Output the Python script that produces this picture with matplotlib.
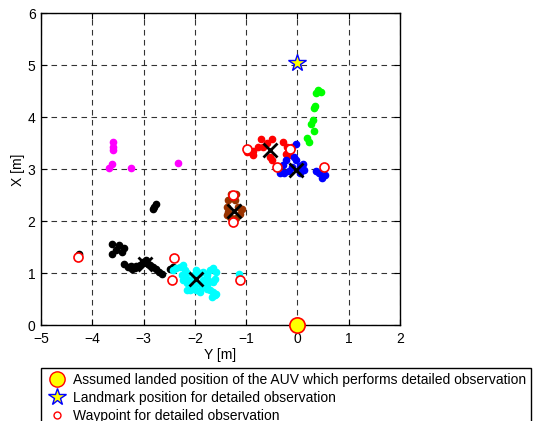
import matplotlib
matplotlib.use('Agg')
import matplotlib.pyplot as plt
from matplotlib.lines import Line2D

plt.rcParams['font.family'] = ['Liberation Sans', 'DejaVu Sans']

# point clouds: (Y, X) pairs
magenta_y = [-3.59, -3.59, -3.59, -3.62, -3.67, -3.24, -2.33]
magenta_x = [3.53, 3.43, 3.38, 3.10, 3.03, 3.03, 3.13]

black_y = [-4.27, -3.62, -3.49, -3.54, -3.38, -3.43, -3.62,
           -3.38, -3.30, -3.23, -3.17, -3.25, -3.14, -3.07, -3.01, -2.95,
           -2.92, -2.88, -2.81, -2.75, -2.71, -2.64, -2.49, -2.42,
           -2.75, -2.79, -2.81]
black_x = [1.38, 1.56, 1.54, 1.45, 1.48, 1.42, 1.38,
           1.19, 1.13, 1.09, 1.11, 1.14, 1.14, 1.16, 1.22, 1.26,
           1.19, 1.16, 1.12, 1.08, 1.03, 0.98, 1.08, 1.12,
           2.33, 2.27, 2.23]

cyan_y = [-2.42, -2.36, -2.29, -2.24, -2.19, -2.16, -2.26, -2.19, -2.13, -2.06,
          -2.02, -1.97, -1.90, -1.84, -1.77, -1.70, -1.64, -1.58, -1.61, -1.64,
          -1.74, -1.80, -1.87, -1.93, -2.03, -2.10, -2.16, -2.06, -1.97, -1.90,
          -1.77, -1.71, -1.64, -1.61, -1.67, -1.58, -1.77, -1.84, -2.16, -2.23,
          -1.14]
cyan_x = [1.06, 1.10, 1.13, 1.16, 1.06, 1.00, 0.97, 0.92, 0.87, 0.90,
          0.97, 1.06, 1.00, 1.03, 0.97, 1.06, 1.10, 1.03, 0.90, 0.84,
          0.87, 0.81, 0.74, 0.81, 0.74, 0.68, 0.68, 0.71, 0.68, 0.65,
          0.71, 0.68, 0.65, 0.58, 0.55, 0.60, 0.78, 0.87, 0.81, 0.87,
          0.99]

brown_y = [-1.30, -1.19, -1.35, -1.22, -1.38, -1.35, -1.38, -1.32, -1.15,
           -1.09, -1.12, -1.19, -1.28]
brown_x = [2.52, 2.52, 2.41, 2.42, 2.27, 2.19, 2.12, 2.09, 2.28,
           2.23, 2.15, 2.06, 2.03]

red_y = [-0.98, -0.89, -0.86, -0.87, -0.76, -0.72, -0.67, -0.60, -0.49,
         -0.54, -0.50, -0.28, -0.20, -0.18, -0.23, -0.16, -0.11]
red_x = [3.34, 3.31, 3.36, 3.28, 3.44, 3.59, 3.44, 3.50, 3.58,
         3.24, 3.19, 3.53, 3.44, 3.34, 3.30, 3.28, 3.44]

blue_y = [-0.03, -0.07, -0.02, -0.28, -0.23, -0.34, -0.26, -0.16, -0.10,
          0.05, 0.11, 0.13, 0.05, 0.37, 0.43, 0.47, 0.54]
blue_x = [3.49, 3.24, 3.19, 3.08, 3.18, 2.94, 2.94, 2.97, 3.05,
          3.06, 3.10, 2.99, 2.94, 2.97, 2.94, 2.83, 2.89]

green_y = [0.41, 0.45, 0.36, 0.35, 0.32, 0.31, 0.26, 0.32, 0.18, 0.22]
green_x = [4.53, 4.49, 4.47, 4.22, 4.19, 3.95, 3.87, 3.74, 3.60, 3.53]

# cluster centres (black crosses)
centre_y = [-2.97, -1.98, -1.23, -0.54, -0.03]
centre_x = [1.19, 0.90, 2.20, 3.37, 2.99]

# waypoints
wp_y = [-4.29, -2.41, -2.44, -1.13, -1.25, -1.25, -0.99, -0.15, -0.39, 0.52]
wp_x = [1.31, 1.30, 0.87, 0.87, 2.51, 1.98, 3.39, 3.39, 3.05, 3.05]

landmark = (0.0, 5.05)
auv = (0.0, 0.0)

fig = plt.figure(figsize=(5.34, 4.21), dpi=100)
ax = fig.add_axes([0.077, 0.227, 0.672, 0.741])

dot = dict(linestyle='none', marker='o', markersize=4.5)
ax.plot(magenta_y, magenta_x, color='#ff00ff', **dot)
ax.plot(black_y, black_x, color='k', **dot)
ax.plot(cyan_y, cyan_x, color='#00ffff', **dot)
ax.plot(brown_y, brown_x, color='#993300', **dot)
ax.plot(red_y, red_x, color='r', **dot)
ax.plot(blue_y, blue_x, color='b', **dot)
ax.plot(green_y, green_x, color='#00ff00', **dot)

ax.plot(wp_y, wp_x, linestyle='none', marker='o', markersize=6.5,
        markerfacecolor='white', markeredgecolor='r', markeredgewidth=1.2)
ax.plot(centre_y, centre_x, linestyle='none', marker='x', markersize=10,
        color='k', markeredgewidth=2)
ax.plot(landmark[0], landmark[1], linestyle='none', marker='*', markersize=13,
        markerfacecolor='yellow', markeredgecolor='b', markeredgewidth=1)
ax.plot(auv[0], auv[1], linestyle='none', marker='o', markersize=11,
        markerfacecolor='yellow', markeredgecolor='r', markeredgewidth=1.2,
        clip_on=False, zorder=5)

ax.set_xlim(-5, 2)
ax.set_ylim(0, 6)
ax.set_xticks(range(-5, 3))
ax.set_yticks(range(0, 7))
ax.grid(True, color='k', linestyle=(0, (5, 4)), linewidth=0.8, alpha=0.8)
ax.tick_params(direction='in', length=4, labelsize=10, top=True, right=True)
ax.tick_params(axis='x', pad=5)
ax.tick_params(axis='y', pad=4)
for s in ax.spines.values():
    s.set_linewidth(1.0)
ax.set_xlabel('Y [m]', fontsize=10, labelpad=1)
ax.set_ylabel('X [m]', fontsize=10, labelpad=2)

handles = [
    Line2D([], [], linestyle='none', marker='o', markersize=11,
           markerfacecolor='yellow', markeredgecolor='r'),
    Line2D([], [], linestyle='none', marker='*', markersize=13,
           markerfacecolor='yellow', markeredgecolor='b'),
    Line2D([], [], linestyle='none', marker='o', markersize=5,
           markerfacecolor='white', markeredgecolor='r'),
]
labels = ['Assumed landed position of the AUV which performs detailed observation',
          'Landmark position for detailed observation',
          'Waypoint for detailed observation']
fig.legend(handles, labels, loc='upper left', bbox_to_anchor=(0.076, 0.125),
           fontsize=10, frameon=True, fancybox=False, edgecolor='k',
           framealpha=1, borderpad=0.35, labelspacing=0.28, handletextpad=0.35,
           handlelength=1.6, borderaxespad=0)

fig.savefig('out.png', dpi=100)
